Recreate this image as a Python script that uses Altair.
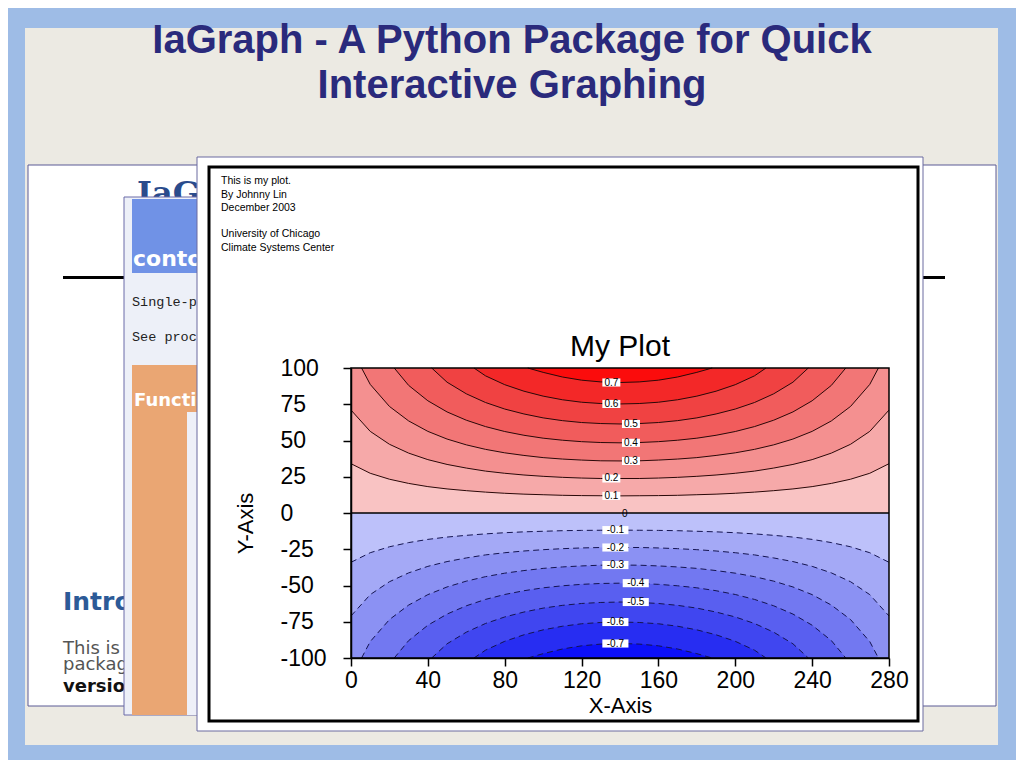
import altair as alt
import pandas as pd

# ---------------- values ----------------
X_TICKS = [0, 40, 80, 120, 160, 200, 240, 280]
Y_TICKS = [-100, -75, -50, -25, 0, 25, 50, 75, 100]

X_ZERO = [0, 280]
Y_ZERO = [0, 0]

X_FULL = [0, 10, 20, 30, 40, 50, 60, 70, 80, 90, 100, 110, 120, 130, 140,
          150, 160, 170, 180, 190, 200, 210, 220, 230, 240, 250, 260, 270, 280]
Y_P01 = [34.0, 27.4, 23.3, 20.4, 18.2, 16.6, 15.4, 14.4, 13.6, 13.0, 12.6, 12.2, 12.0, 11.9, 11.8,
         11.9, 12.0, 12.2, 12.6, 13.0, 13.6, 14.4, 15.4, 16.6, 18.2, 20.4, 23.3, 27.4, 34.0]
Y_P02 = [71.0, 56.3, 47.4, 41.3, 36.8, 33.5, 31.0, 28.9, 27.4, 26.2, 25.3, 24.6, 24.1, 23.8, 23.8,
         23.8, 24.1, 24.6, 25.3, 26.2, 27.4, 28.9, 31.0, 33.5, 36.8, 41.3, 47.4, 56.3, 71.0]

X_P03 = [5.5, 10, 20, 30, 40, 50, 60, 70, 80, 90, 100, 110, 120, 130, 140,
         150, 160, 170, 180, 190, 200, 210, 220, 230, 240, 250, 260, 270, 274.5]
Y_P03 = [100, 88.7, 73.5, 63.5, 56.3, 51.0, 47.0, 43.9, 41.5, 39.7, 38.2, 37.2, 36.5, 36.0, 35.9,
         36.0, 36.5, 37.2, 38.2, 39.7, 41.5, 43.9, 47.0, 51.0, 56.3, 63.5, 73.5, 88.7, 100]

X_P04 = [22.5, 30, 40, 50, 60, 70, 80, 90, 100, 110, 120, 130, 140,
         150, 160, 170, 180, 190, 200, 210, 220, 230, 240, 250, 257.5]
Y_P04 = [100, 88.0, 77.4, 69.7, 64.0, 59.6, 56.2, 53.6, 51.6, 50.2, 49.2, 48.6, 48.4,
         48.6, 49.2, 50.2, 51.6, 53.6, 56.2, 59.6, 64.0, 69.7, 77.4, 88.0, 100]

X_P05 = [42, 50, 60, 70, 80, 90, 100, 110, 120, 130, 140,
         150, 160, 170, 180, 190, 200, 210, 220, 230, 238]
Y_P05 = [100, 90.2, 82.2, 76.2, 71.7, 68.3, 65.6, 63.7, 62.4, 61.7, 61.4,
         61.7, 62.4, 63.7, 65.6, 68.3, 71.7, 76.2, 82.2, 90.2, 100]

X_P06 = [64, 70, 80, 90, 100, 110, 120, 130, 140, 150, 160, 170, 180, 190, 200, 210, 216]
Y_P06 = [100, 94.6, 88.5, 84.0, 80.6, 78.1, 76.4, 75.5, 75.2, 75.5, 76.4, 78.1, 80.6, 84.0, 88.5, 94.6, 100]

X_P07 = [92, 100, 110, 120, 130, 140, 150, 160, 170, 180, 188]
Y_P07 = [100, 97.0, 93.8, 91.6, 90.4, 90.0, 90.4, 91.6, 93.8, 97.0, 100]

Y_N01 = [-34.0, -27.4, -23.3, -20.4, -18.2, -16.6, -15.4, -14.4, -13.6, -13.0, -12.6, -12.2, -12.0, -11.9, -11.8,
         -11.9, -12.0, -12.2, -12.6, -13.0, -13.6, -14.4, -15.4, -16.6, -18.2, -20.4, -23.3, -27.4, -34.0]
Y_N02 = [-71.0, -56.3, -47.4, -41.3, -36.8, -33.5, -31.0, -28.9, -27.4, -26.2, -25.3, -24.6, -24.1, -23.8, -23.8,
         -23.8, -24.1, -24.6, -25.3, -26.2, -27.4, -28.9, -31.0, -33.5, -36.8, -41.3, -47.4, -56.3, -71.0]
Y_N03 = [-100, -88.7, -73.5, -63.5, -56.3, -51.0, -47.0, -43.9, -41.5, -39.7, -38.2, -37.2, -36.5, -36.0, -35.9,
         -36.0, -36.5, -37.2, -38.2, -39.7, -41.5, -43.9, -47.0, -51.0, -56.3, -63.5, -73.5, -88.7, -100]
Y_N04 = [-100, -88.0, -77.4, -69.7, -64.0, -59.6, -56.2, -53.6, -51.6, -50.2, -49.2, -48.6, -48.4,
         -48.6, -49.2, -50.2, -51.6, -53.6, -56.2, -59.6, -64.0, -69.7, -77.4, -88.0, -100]
Y_N05 = [-100, -90.2, -82.2, -76.2, -71.7, -68.3, -65.6, -63.7, -62.4, -61.7, -61.4,
         -61.7, -62.4, -63.7, -65.6, -68.3, -71.7, -76.2, -82.2, -90.2, -100]
Y_N06 = [-100, -94.6, -88.5, -84.0, -80.6, -78.1, -76.4, -75.5, -75.2, -75.5, -76.4, -78.1, -80.6, -84.0, -88.5, -94.6, -100]
Y_N07 = [-100, -97.0, -93.8, -91.6, -90.4, -90.0, -90.4, -91.6, -93.8, -97.0, -100]

LEVELS = [0.0, 0.1, 0.2, 0.3, 0.4, 0.5, 0.6, 0.7]

LABEL_TEXT_POS = ["0.7", "0.6", "0.5", "0.4", "0.3", "0.2", "0.1"]
LABEL_X_POS = [135.5, 135.5, 145.7, 145.7, 145.7, 135.5, 135.5]
LABEL_Y_POS = [90.0, 75.2, 61.4, 48.4, 35.9, 23.8, 11.8]
LABEL_TEXT_NEG = ["-0.1", "-0.2", "-0.3", "-0.4", "-0.5", "-0.6", "-0.7"]
LABEL_X_NEG = [137.6, 137.6, 137.6, 148.2, 148.2, 137.6, 137.6]
LABEL_Y_NEG = [-11.8, -23.8, -35.9, -48.4, -61.4, -75.2, -90.0]
LABEL_TEXT_ZERO = ["0"]
LABEL_X_ZERO = [142.5]
LABEL_Y_ZERO = [-0.8]

NOTE_LINES = ["This is my plot.", "By Johnny Lin", "December 2003",
              "University of Chicago", "Climate Systems Center"]

# ---------------- styles ----------------
SANS = "Liberation Sans"
DEJAVU = "DejaVu Sans"
SERIF = "DejaVu Serif"
MONO = "Liberation Mono"
COLORS_POS = ["#f9c3c3", "#f6a9a9", "#f49090", "#f27676", "#f15c5c", "#f04242", "#f32828", "#fb0c0c"]
COLORS_NEG = ["#bdc1fa", "#a4a9f6", "#8b91f3", "#7278f1", "#595ff0", "#4046f0", "#272df2", "#0c10f8"]

POS = [(X_ZERO, Y_ZERO), (X_FULL, Y_P01), (X_FULL, Y_P02), (X_P03, Y_P03),
       (X_P04, Y_P04), (X_P05, Y_P05), (X_P06, Y_P06), (X_P07, Y_P07)]
NEG = [(X_ZERO, Y_ZERO), (X_FULL, Y_N01), (X_FULL, Y_N02), (X_P03, Y_N03),
       (X_P04, Y_N04), (X_P05, Y_N05), (X_P06, Y_N06), (X_P07, Y_N07)]

def frame(xs, ys, lev):
    return pd.DataFrame({"x": xs, "y": ys, "level": [lev] * len(xs)})

XENC = alt.X("x:Q",
             scale=alt.Scale(domain=[0, 280], nice=False, zero=False),
             axis=alt.Axis(values=X_TICKS, title="X-Axis", grid=False, tickSize=8,
                           tickColor="black", tickWidth=1.5, domainColor="black",
                           domainWidth=1.5, labelFont=SANS, labelFontSize=23,
                           labelColor="black", labelPadding=3, labelFlush=False,
                           labelOverlap=False, labelExpr="'' + datum.value",
                           titleFont=SANS, titleFontSize=22,
                           titleFontWeight="normal", titleColor="black",
                           titleX=269, titleY=47, titleBaseline="middle", zindex=1))
YENC = alt.Y("y:Q",
             scale=alt.Scale(domain=[-100, 100], nice=False, zero=False),
             axis=alt.Axis(values=Y_TICKS, title="Y-Axis", grid=False, tickSize=8,
                           tickColor="black", tickWidth=1.5, domainColor="black",
                           domainWidth=1.5, labelFont=SANS, labelFontSize=23,
                           labelColor="black", labelAlign="left", labelBaseline="middle",
                           labelPadding=63, labelFlush=False, labelOverlap=False,
                           labelExpr="'' + datum.value",
                           titleFont=SANS, titleFontSize=22, titleFontWeight="normal",
                           titleColor="black", titleAngle=270, titleX=-106, titleY=155,
                           titleAlign="center", titleBaseline="middle", zindex=1))

ONE = pd.DataFrame({"k": [0]})

def rect(x1, y1, x2, y2, fill, stroke=None, sw=0):
    kw = {"fill": fill}
    if stroke:
        kw.update(stroke=stroke, strokeWidth=sw)
    return alt.Chart(ONE).mark_rect(**kw).encode(
        x=alt.value(x1), x2=alt.value(x2), y=alt.value(y1), y2=alt.value(y2))

def txt(s, x, y, size, color="black", weight="normal", font=SANS,
        align="left", baseline="alphabetic"):
    return alt.Chart(ONE).mark_text(
        text=s, align=align, baseline=baseline, fontSize=size, font=font,
        fontWeight=weight, color=color).encode(x=alt.value(x), y=alt.value(y))

layers = []
# slide paper and background windows
layers.append(rect(-326, -340, 647, 377, "#eceae3"))
layers.append(rect(-323, -203, 645, 338, "white", "#5b5b95", 1))
layers.append(txt("IaGraph", -214, -164, 32, "#2a4b8c", "bold", SERIF))
layers.append(rect(-288, -92, 594, -89, "black"))
layers.append(txt("Introduction", -288, 242, 25, "#2c5a97", "bold", DEJAVU))
layers.append(txt("This is the home page of IaGraph", -288, 286, 18, "#555555", "normal", DEJAVU))
layers.append(txt("package", -288, 302, 18, "#555555", "normal", DEJAVU))
layers.append(txt("version", -288, 324, 18, "#111111", "bold", DEJAVU))
layers.append(rect(-227, -171, 250, 347, "#edf0f8", "#6a6aa8", 1))
layers.append(rect(-219, -169, 100, -95, "#7092e6"))
layers.append(txt("contour", -218, -102, 22, "white", "bold", DEJAVU))
layers.append(txt("Single-page", -219, -62, 13.5, "#222222", "normal", MONO))
layers.append(txt("See procedure", -219, -27, 13.5, "#222222", "normal", MONO))
layers.append(rect(-219, -3, 100, 347, "#eaa673"))
layers.append(txt("Functions", -217, 38, 18, "white", "bold", DEJAVU))
layers.append(rect(-164, 44, 100, 347, "#eef0f8"))
# plot window
layers.append(rect(-154, -211, 572, 363, "white", "#6a6aa0", 1))
layers.append(rect(-142, -201, 567, 353, "white", "black", 3))
for line, yy in zip(NOTE_LINES, [-187, -173.5, -160, -134, -120.5]):
    layers.append(txt(line, -130, yy, 10.5, "black", "normal", SANS, "left", "middle"))

# filled contour bands
for (xs, ys), lev, col in zip(POS, LEVELS, COLORS_POS):
    layers.append(alt.Chart(frame(xs, ys, lev)).mark_area(color=col, strokeWidth=0).encode(
        x=XENC, y=YENC, y2=alt.datum(100)))
for (xs, ys), lev, col in zip(NEG, LEVELS, COLORS_NEG):
    layers.append(alt.Chart(frame(xs, ys, -lev)).mark_area(color=col, strokeWidth=0).encode(
        x=XENC, y=YENC, y2=alt.datum(-100)))

# contour lines
pos_lines = pd.concat([frame(xs, ys, lev) for (xs, ys), lev in zip(POS[1:], LEVELS[1:])])
neg_lines = pd.concat([frame(xs, ys, -lev) for (xs, ys), lev in zip(NEG[1:], LEVELS[1:])])
layers.append(alt.Chart(pos_lines).mark_line(color="#2a0808", strokeWidth=1).encode(
    x=XENC, y=YENC, detail="level:N"))
layers.append(alt.Chart(neg_lines).mark_line(color="#141450", strokeWidth=1,
                                             strokeDash=[6, 4]).encode(
    x=XENC, y=YENC, detail="level:N"))
layers.append(alt.Chart(frame(X_ZERO, Y_ZERO, 0.0)).mark_line(color="black", strokeWidth=1.3).encode(
    x=XENC, y=YENC))

# contour labels
lab_pos = pd.DataFrame({"x": LABEL_X_POS, "y": LABEL_Y_POS, "t": LABEL_TEXT_POS})
lab_neg = pd.DataFrame({"x": LABEL_X_NEG, "y": LABEL_Y_NEG, "t": LABEL_TEXT_NEG})
lab_zero = pd.DataFrame({"x": LABEL_X_ZERO, "y": LABEL_Y_ZERO, "t": LABEL_TEXT_ZERO})
layers.append(alt.Chart(lab_pos).mark_point(
    shape="M-1,-0.45L1,-0.45L1,0.45L-1,0.45Z", size=324, filled=True,
    fill="white", opacity=1, strokeWidth=0).encode(x=XENC, y=YENC))
layers.append(alt.Chart(lab_neg).mark_point(
    shape="M-1.45,-0.45L1.45,-0.45L1.45,0.45L-1.45,0.45Z", size=324, filled=True,
    fill="white", opacity=1, strokeWidth=0).encode(x=XENC, y=YENC))
for d in (lab_pos, lab_neg, lab_zero):
    layers.append(alt.Chart(d).mark_text(font=SANS, fontSize=10, color="black",
                                         align="center", baseline="middle").encode(
        x=XENC, y=YENC, text="t:N"))

# plot frame (top and right edges of the plot box)
layers.append(alt.Chart(ONE).mark_rect(filled=False, color="black", strokeWidth=1.5).encode(
    x=alt.value(0), x2=alt.value(538), y=alt.value(0), y2=alt.value(290)))

# plot title
layers.append(txt("My Plot", 269, -12, 30, "black", "normal", SANS, "center"))

# slide title
layers.append(txt("IaGraph - A Python Package for Quick", 161, -315, 40, "#2a2a7c", "bold", SANS, "center"))
layers.append(txt("Interactive Graphing", 161, -270, 40, "#2a2a7c", "bold", SANS, "center"))

chart = alt.layer(*layers).properties(
    width=538, height=290,
    padding={"left": 343, "top": 360, "right": 127, "bottom": 102},
    autosize=alt.AutoSizeParams(type="none"),
    background="#9ebce6",
).configure_view(strokeWidth=0)

chart.save("out.html", embed_options={"renderer": "svg", "actions": False})
